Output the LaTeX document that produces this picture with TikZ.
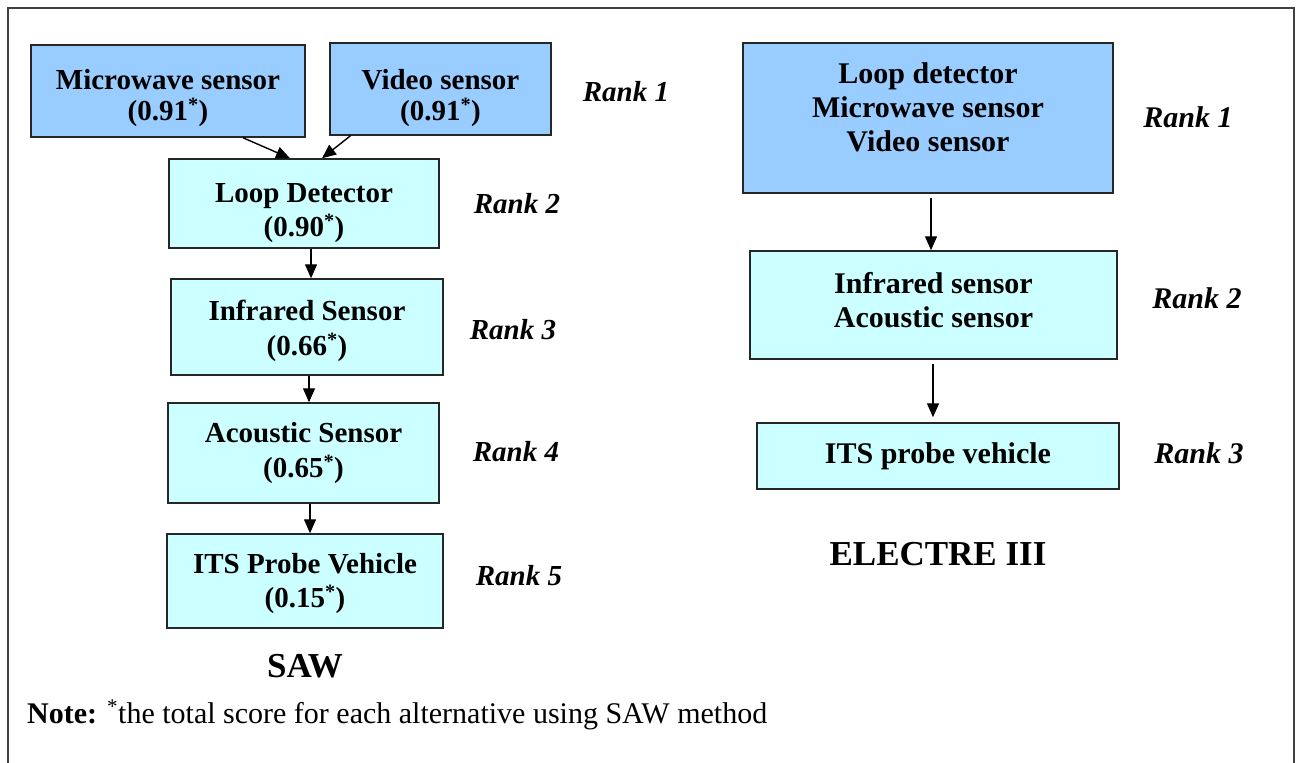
\documentclass[tikz,border=0pt]{standalone}
\usepackage{fontspec}
\setmainfont{Liberation Serif}
\usetikzlibrary{arrows.meta}

\definecolor{topblue}{HTML}{99CCFF}
\definecolor{paleblue}{HTML}{CCFFFF}
\definecolor{framegray}{HTML}{404040}

\begin{document}
\begin{tikzpicture}[x=1pt,y=-1pt,
  box/.style={draw=black!85, line width=1.5pt, inner sep=0pt},
  altA/.style={box, fill=topblue},
  altB/.style={box, fill=paleblue},
  label/.style={align=center, inner sep=0pt, font=\fontsize{29}{34}\selectfont\bfseries},
  tight/.style={label, font=\fontsize{29}{31}\selectfont\bfseries},
  plain/.style={align=center, inner sep=0pt, font=\fontsize{30}{34}\selectfont\bfseries},
  rank/.style={inner sep=0pt, font=\fontsize{29}{34}\selectfont\bfseries\itshape},
  rankR/.style={inner sep=0pt, font=\fontsize{30}{35}\selectfont\bfseries\itshape},
  title/.style={inner sep=0pt, font=\fontsize{35}{40}\selectfont\bfseries},
  link/.style={-{Triangle[length=14pt,width=12pt]}, line width=1.4pt, black}]

\useasboundingbox (0,0) rectangle (1296,763);
\fill[white] (0,0) rectangle (1296,763);

% outer frame (open at the bottom)
\draw[framegray, line width=2.5pt] (8,763) -- (8,8) -- (1294,8) -- (1294,763);

% ---------------- SAW ranking ----------------
\node[altA, minimum width=274pt, minimum height=92pt] (mw) at (168,91) {};
\node[tight] (mwt) at (168,98.5) {Microwave sensor\\(0.91\textsuperscript{*})};
\node[altA, minimum width=221pt, minimum height=92pt] (vid) at (440.5,89) {};
\node[tight] (vidt) at (440.5,98.5) {Video sensor\\(0.91\textsuperscript{*})};
\node[altB, minimum width=270pt, minimum height=89pt] (loop) at (304,203.5) {};
\node[label] (loopt) at (304,213.5) {Loop Detector\\(0.90\textsuperscript{*})};
\node[altB, minimum width=272pt, minimum height=96pt] (infra) at (307,327) {};
\node[label, font=\fontsize{29}{35}\selectfont\bfseries] (infrat) at (307,331) {Infrared Sensor\\(0.66\textsuperscript{*})};
\node[altB, minimum width=271pt, minimum height=100pt] (acou) at (303.5,453) {};
\node[label, font=\fontsize{29}{35}\selectfont\bfseries] (acout) at (303.5,453.5) {Acoustic Sensor\\(0.65\textsuperscript{*})};
\node[altB, minimum width=276pt, minimum height=94pt] (its) at (305,581) {};
\node[label] (itst) at (305,583.5) {ITS Probe Vehicle\\(0.15\textsuperscript{*})};

\draw[link] ([xshift=75pt]mw.south) -- ([xshift=-14pt]loop.north);
\draw[link] ([xshift=-90pt]vid.south) -- ([xshift=18pt]loop.north);
\draw[link] ([xshift=7pt]loop.south) -- ([xshift=4pt]infra.north);
\draw[link] ([xshift=2pt]infra.south) -- ([xshift=5.5pt]acou.north);
\draw[link] ([xshift=6.5pt]acou.south) -- ([xshift=5pt]its.north);

\node[rank] (sr1) at (626,92) {Rank 1};
\node[rank] (sr2) at (517,204) {Rank 2};
\node[rank] (sr3) at (513,330) {Rank 3};
\node[rank] (sr4) at (516,452) {Rank 4};
\node[rank] (sr5) at (519,576) {Rank 5};

\node[title, anchor=base] (saw) at (305,677) {SAW};

% ---------------- ELECTRE III ranking ----------------
\node[altA, minimum width=370pt, minimum height=150pt] (e1) at (928,118) {};
\node[plain] (e1t) at (928,107) {Loop detector\\Microwave sensor\\Video sensor};
\node[altB, minimum width=367pt, minimum height=108pt] (e2) at (933.5,305) {};
\node[plain] (e2t) at (933.5,300) {Infrared sensor\\Acoustic sensor};
\node[altB, minimum width=362pt, minimum height=66pt] (e3) at (938,456) {};
\node[plain] (e3t) at (938,456) {ITS probe vehicle};

\draw[link, shorten <=4pt] ([xshift=3pt]e1.south) -- ([xshift=3pt]e1.south |- e2.north);
\draw[link, shorten <=4pt, shorten >=5pt] ([xshift=-0.5pt]e2.south) -- ([xshift=-0.5pt]e2.south |- e3.north);

\node[rankR] (er1) at (1188,117) {Rank 1};
\node[rankR] (er2) at (1197,298) {Rank 2};
\node[rankR] (er3) at (1199,453) {Rank 3};

\node[title, anchor=base] (electre) at (938,565) {ELECTRE III};

% footnote
\node[anchor=base west, inner sep=0pt, font=\fontsize{30}{34}\selectfont] (note) at (27,723)
  {\textbf{Note:} \textsuperscript{*}the total score for each alternative using SAW method};
\end{tikzpicture}
\end{document}
